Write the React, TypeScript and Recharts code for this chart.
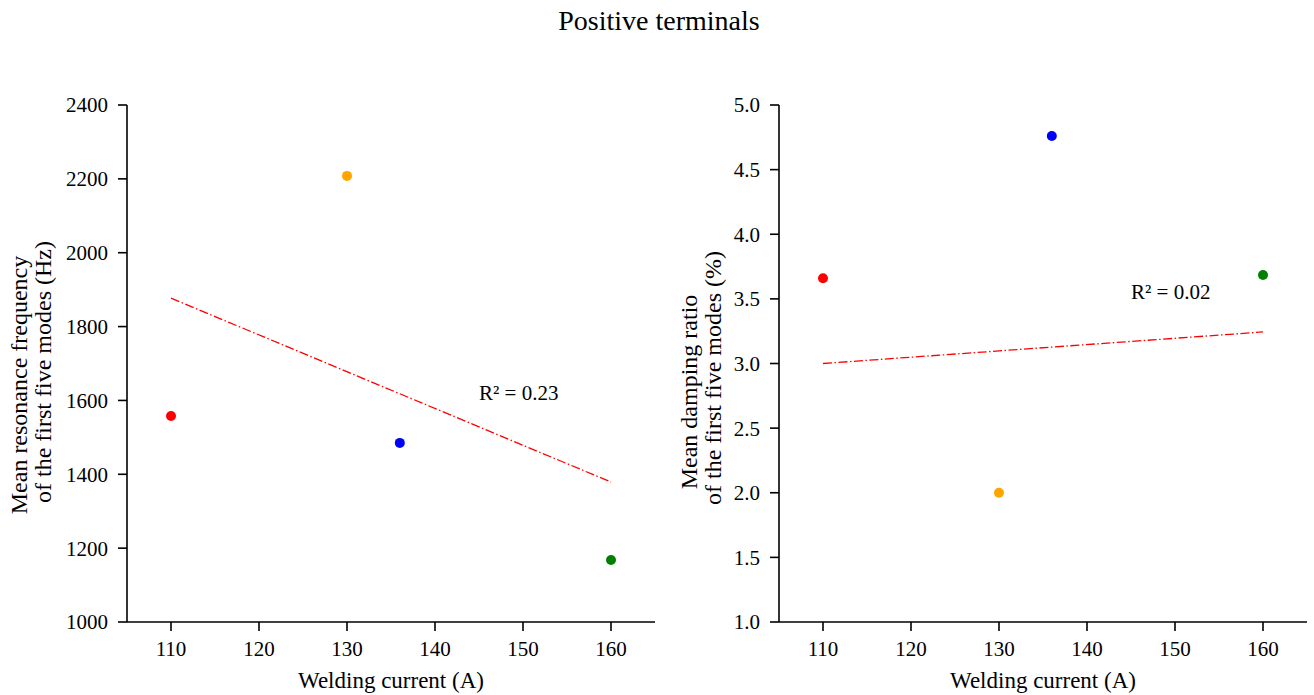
import React from 'react';
import { ScatterChart, Scatter, XAxis, YAxis, ReferenceLine, Cell } from 'recharts';

// ---------- data ----------
const chartTitle = 'Positive terminals';
const xLabel = 'Welding current (A)';
const xTicks = [110, 120, 130, 140, 150, 160];
const xDomain = [105, 165];

const currents = [110, 130, 136, 160];
const pointColors = ['#ff0000', '#ffa500', '#0000ff', '#008000'];

const freqValues = [1558, 2208, 1485, 1168];
const freqTicks = [1000, 1200, 1400, 1600, 1800, 2000, 2200, 2400];
const freqLabel = ['Mean resonance frequency', 'of the first five modes (Hz)'];
const freqTrendX = [110, 160];
const freqTrendY = [1877, 1379];
const freqR2 = 'R\u00B2 = 0.23';
const freqR2Pos = [145, 1600];

const dampValues = [3.66, 2.0, 4.76, 3.685];
const dampTicks = [1.0, 1.5, 2.0, 2.5, 3.0, 3.5, 4.0, 4.5, 5.0];
const dampLabel = ['Mean damping ratio', 'of the first five modes (%)'];
const dampTrendX = [110, 160];
const dampTrendY = [3.0, 3.244];
const dampR2 = 'R\u00B2 = 0.02';
const dampR2Pos = [145, 3.5];

// ---------- styles ----------
const FONT = '"Liberation Serif", "Times New Roman", serif';
const TICK_FS = 21;
const LABEL_FS = 23;
const YLABEL_FS = 24;

type PanelProps = {
  values: number[];
  yTicks: number[];
  yLabel: string[];
  trendX: number[];
  trendY: number[];
  r2: string;
  r2Pos: number[];
  tickFmt: (v: number) => string;
  width: number;
  marginLeft: number;
  marginRight: number;
  labelPos: { x1: number; c1: number; x2: number; c2: number };
};

const Panel = (p: PanelProps) => {
  const points = currents.map((c, i) => ({ x: c, y: p.values[i] }));
  const annot = [{ x: p.r2Pos[0], y: p.r2Pos[1] }];
  const yAxisW = 60;
  const xAxisH = 40;
  const yDomain = [p.yTicks[0], p.yTicks[p.yTicks.length - 1]];
  return (
    <ScatterChart
      width={p.width}
      height={695}
      margin={{ top: 105, right: p.marginRight, bottom: 695 - 622 - xAxisH, left: p.marginLeft - yAxisW }}
    >
      <XAxis
        type="number"
        dataKey="x"
        domain={xDomain}
        ticks={xTicks}
        height={xAxisH}
        tickSize={9}
        tickMargin={10}
        axisLine={{ stroke: '#000', strokeWidth: 1.6 }}
        tickLine={{ stroke: '#000', strokeWidth: 1.6 }}
        tick={{ fill: '#000', fontSize: TICK_FS, fontFamily: FONT }}
        allowDataOverflow
        label={{
          content: (lp: any) => {
            const vb = lp.viewBox || {};
            return (
              <text
                x={vb.x + vb.width / 2}
                y={688}
                textAnchor="middle"
                fontSize={LABEL_FS}
                fontFamily={FONT}
                fill="#000"
              >
                {xLabel}
              </text>
            );
          },
        }}
      />
      <YAxis
        type="number"
        dataKey="y"
        domain={yDomain}
        ticks={p.yTicks}
        width={yAxisW}
        tickSize={9}
        tickMargin={10}
        tickFormatter={p.tickFmt}
        axisLine={{ stroke: '#000', strokeWidth: 1.6 }}
        tickLine={{ stroke: '#000', strokeWidth: 1.6 }}
        tick={{ fill: '#000', fontSize: TICK_FS, fontFamily: FONT }}
        allowDataOverflow
        label={{
          content: () => (
            <g fontSize={YLABEL_FS} fontFamily={FONT} fill="#000">
              <text transform={`translate(${p.labelPos.x1},${p.labelPos.c1}) rotate(-90)`} textAnchor="middle">
                {p.yLabel[0]}
              </text>
              <text transform={`translate(${p.labelPos.x2},${p.labelPos.c2}) rotate(-90)`} textAnchor="middle">
                {p.yLabel[1]}
              </text>
            </g>
          ),
        }}
      />
      <ReferenceLine
        segment={[
          { x: p.trendX[0], y: p.trendY[0] },
          { x: p.trendX[1], y: p.trendY[1] },
        ]}
        stroke="#ff0000"
        strokeWidth={1.3}
        strokeDasharray="9 2.5 1.5 2.5"
        ifOverflow="visible"
      />
      <Scatter
        data={points}
        isAnimationActive={false}
        shape={(sp: any) => <circle cx={sp.cx} cy={sp.cy} r={5} fill={sp.fill} />}
      >
        {points.map((_, i) => (
          <Cell key={i} fill={pointColors[i]} />
        ))}
      </Scatter>
      <Scatter
        data={annot}
        isAnimationActive={false}
        shape={(sp: any) => (
          <text x={sp.cx} y={sp.cy} fontSize={TICK_FS} fontFamily={FONT} fill="#000" textAnchor="start">
            {p.r2}
          </text>
        )}
      />
    </ScatterChart>
  );
};

export default function App() {
  return (
    <div style={{ position: 'absolute', left: 0, top: 0, width: 1314, height: 695, background: '#fff' }}>
      <svg width={1314} height={50} style={{ position: 'absolute', left: 0, top: 0 }}>
        <text x={659} y={30} textAnchor="middle" fontSize={28} fontFamily={FONT} fill="#000">
          {chartTitle}
        </text>
      </svg>
      <div style={{ position: 'absolute', left: 0, top: 0 }}>
        <Panel
          values={freqValues}
          yTicks={freqTicks}
          yLabel={freqLabel}
          trendX={freqTrendX}
          trendY={freqTrendY}
          r2={freqR2}
          r2Pos={freqR2Pos}
          tickFmt={(v) => String(v)}
          width={660}
          marginLeft={127}
          marginRight={5}
          labelPos={{ x1: 27, c1: 385, x2: 51, c2: 372 }}
        />
      </div>
      <div style={{ position: 'absolute', left: 660, top: 0 }}>
        <Panel
          values={dampValues}
          yTicks={dampTicks}
          yLabel={dampLabel}
          trendX={dampTrendX}
          trendY={dampTrendY}
          r2={dampR2}
          r2Pos={dampR2Pos}
          tickFmt={(v) => v.toFixed(1)}
          width={654}
          marginLeft={119}
          marginRight={7}
          labelPos={{ x1: 37, c1: 392, x2: 61, c2: 378 }}
        />
      </div>
    </div>
  );
}
